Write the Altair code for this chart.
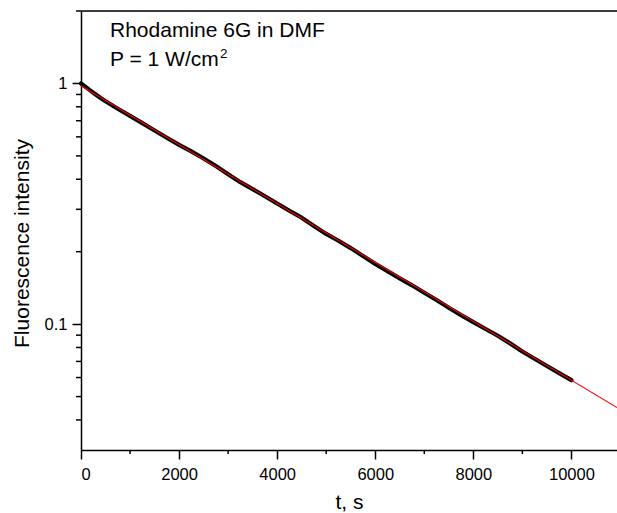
import altair as alt
import pandas as pd

# measured decay (black)
t_data = [0, 100, 200, 300, 400, 500, 750, 1000, 1250, 1500, 1750, 2000, 2250, 2500,
          2750, 3000, 3250, 3500, 3750, 4000, 4250, 4500, 4750, 5000, 5250, 5500,
          5750, 6000, 6250, 6500, 6750, 7000, 7250, 7500, 7750, 8000, 8250, 8500,
          8750, 9000, 9250, 9500, 9750, 10000]
I_data = [1.00, 0.965, 0.932, 0.900, 0.870, 0.843, 0.785, 0.733, 0.684, 0.638, 0.595,
          0.556, 0.522, 0.488, 0.454, 0.420, 0.389, 0.364, 0.340, 0.317, 0.296, 0.277,
          0.256, 0.237, 0.222, 0.207, 0.192, 0.178, 0.166, 0.155, 0.145, 0.135, 0.126,
          0.117, 0.109, 0.102, 0.0955, 0.0895, 0.0832, 0.0770, 0.0718, 0.0670, 0.0626,
          0.0585]
# exponential fit (red)
fit_t = [0, 10930]
fit_I = [0.978, 0.0450]

x_major = [0, 2000, 4000, 6000, 8000, 10000]
x_minor = [1000, 3000, 5000, 7000, 9000]
y_major = [0.1, 1]
y_minor = [0.04, 0.05, 0.06, 0.07, 0.08, 0.09, 0.2, 0.3, 0.4, 0.5, 0.6, 0.7, 0.8, 0.9, 2]

title_x = "t, s"
title_y = "Fluorescence intensity"
note1 = "Rhodamine 6G in DMF"
note2 = "P = 1 W/cm"
note2_sup = "2"

W, H = 536, 439
FONT = "Liberation Sans"

xs = alt.Scale(domain=[0, 10930], nice=False, zero=False)
ys = alt.Scale(type="log", domain=[0.03, 2], nice=False)

x_axis = alt.Axis(values=x_major, tickSize=9, tickWidth=1.5, domainWidth=1.5,
                  labelPadding=7, labelFontSize=16.5, labelFont=FONT,
                  labelColor="black", tickColor="black", domainColor="black",
                  grid=False, title=title_x, titleFont=FONT, titleFontSize=21,
                  titleFontWeight="normal", titleColor="black",
                  titleBaseline="alphabetic", titleY=58, format="d")
y_axis = alt.Axis(values=y_major, tickSize=9, tickWidth=1.5, domainWidth=1.5,
                  labelPadding=5, labelFontSize=16.5, labelFont=FONT,
                  labelColor="black", tickColor="black", domainColor="black",
                  grid=False, title=title_y, titleFont=FONT, titleFontSize=21,
                  titleFontWeight="normal", titleColor="black",
                  titleBaseline="alphabetic", titleAlign="center",
                  titleAngle=270, titleX=-53, titleY=232, format="~g")

X = alt.X("t:Q", scale=xs, axis=x_axis)
Y = alt.Y("I:Q", scale=ys, axis=y_axis)

meas = pd.DataFrame({"t": t_data, "I": I_data})
fit = pd.DataFrame({"t": fit_t, "I": fit_I})

black = alt.Chart(meas).mark_line(color="black", strokeWidth=4.2, strokeCap="round",
                                  strokeJoin="round").encode(x=X, y=Y)

red = alt.Chart(fit).mark_line(color="#ff0000", strokeWidth=1.1).encode(x=X, y=Y)

ymin_df = pd.DataFrame({"I": y_minor})
ymin = alt.Chart(ymin_df).mark_rule(color="black", strokeWidth=1.5).encode(
    y=Y, x=alt.value(-5), x2=alt.value(0),
)
xmin_df = pd.DataFrame({"t": x_minor})
xmin = alt.Chart(xmin_df).mark_rule(color="black", strokeWidth=1.5).encode(
    x=X, y=alt.value(H), y2=alt.value(H + 4),
)

top_df = pd.DataFrame({"k": [0]})
top = alt.Chart(top_df).mark_rule(color="black", strokeWidth=1.5).encode(
    x=alt.value(0), x2=alt.value(W + 5), y=alt.value(0),
)

txt_df = pd.DataFrame({"a": [note1], "b": [note2], "c": [note2_sup]})
t1 = alt.Chart(txt_df).mark_text(align="left", baseline="alphabetic", font=FONT,
                                 fontSize=21, color="black").encode(
    text="a:N", x=alt.value(29), y=alt.value(26))
t2 = alt.Chart(txt_df).mark_text(align="left", baseline="alphabetic", font=FONT,
                                 fontSize=21, color="black").encode(
    text="b:N", x=alt.value(29), y=alt.value(55))
t3 = alt.Chart(txt_df).mark_text(align="left", baseline="alphabetic", font=FONT,
                                 fontSize=13.5, color="black").encode(
    text="c:N", x=alt.value(139), y=alt.value(47))

chart = alt.layer(black, red, ymin, xmin, top, t1, t2, t3).properties(
    width=W, height=H, autosize="none",
    padding={"left": 81, "top": 11, "right": 0, "bottom": 63},
).configure_view(stroke=None).configure(background="white")

chart.save("out.html", embed_options={"renderer": "svg", "actions": False})
